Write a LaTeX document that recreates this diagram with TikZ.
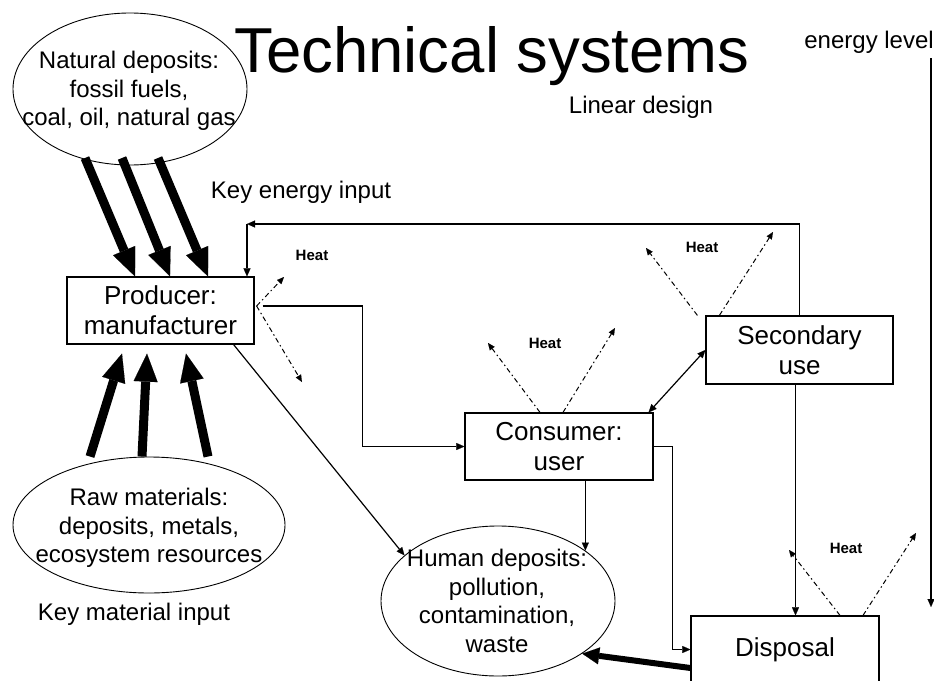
\documentclass[tikz,border=0pt]{standalone}
\usepackage{fontspec}
\setmainfont{Liberation Sans}
\usetikzlibrary{arrows.meta,shapes.geometric,calc}

\begin{document}
\begin{tikzpicture}[x=1pt,y=-1pt,
  body/.style={font=\fontsize{24}{28.5}\selectfont, align=center, inner sep=0pt},
  boxlabel/.style={draw, line width=1.2pt, font=\fontsize{26}{30}\selectfont, align=center,
    inner sep=0pt, minimum width=187pt, minimum height=67pt},
  pool/.style={draw, ellipse, line width=0.9pt, inner sep=0pt},
  flow/.style={line width=1.2pt, -{Triangle[length=8pt,width=7pt,line width=0.1pt]}},
  bigflow/.style={line width=9pt, -{Triangle[length=28pt,width=24pt,line width=0.1pt]}},
  heat/.style={line width=1pt, dash pattern=on 5pt off 3pt on 1.5pt off 3pt,
    -{Triangle[length=7pt,width=6pt,line width=0.1pt]}},
  heatlabel/.style={font=\fontsize{15}{18}\selectfont\bfseries, inner sep=0pt},
]
\useasboundingbox (0,0) rectangle (934,680);
\clip (0,0) rectangle (934,680);

% title and free labels
\node[body, font=\fontsize{63.5}{70}\selectfont, anchor=base] (title) at (492,72) {Technical systems};
\node[body, anchor=base] (kei) at (301,198) {Key energy input};
\node[body, anchor=base] (lin) at (641,113) {Linear design};
\node[body, anchor=base] (kmi) at (134,620) {Key material input};
\node[body, anchor=base east] (enl) at (934,48) {energy level};

% reservoirs
\node[pool, minimum width=234pt, minimum height=152pt] (nat) at (130,89) {};
\node[body] (natT) at (129,91) {Natural deposits:\\fossil fuels,\\coal, oil, natural gas};
\node[pool, minimum width=272pt, minimum height=136pt] (raw) at (149,525) {};
\node[body] (rawT) at (149,528) {Raw materials:\\deposits, metals,\\ecosystem resources};
\node[pool, minimum width=234pt, minimum height=150pt] (hum) at (498,601) {};
\node[body] (humT) at (497,601) {Human deposits:\\pollution,\\contamination,\\waste};

% stages
\node[boxlabel] (prod) at (160.5,310.5) {Producer:\\manufacturer};
\node[boxlabel, minimum width=188pt] (cons) at (559,446.5) {Consumer:\\user};
\node[boxlabel, minimum height=68pt] (sec) at (799.5,350) {Secondary\\use};
\node[boxlabel, minimum width=188pt] (disp) at (785,649.5) {Disposal};

% key energy input
\draw[bigflow] ($(nat.center)+(-45,69)$) -- ($(prod.north)+(-25.5,0)$);
\draw[bigflow] ($(nat.center)+(-8,69)$) -- ($(prod.north)+(9.5,0)$);
\draw[bigflow] ($(nat.center)+(28,69)$) -- ($(prod.north)+(47.5,0)$);

% key material input
\draw[bigflow] ($(raw.north)+(-59,0)$) -- ($(prod.south)+(-38.5,9)$);
\draw[bigflow] ($(raw.north)+(-7,0)$) -- ($(prod.south)+(-13.5,9)$);
\draw[bigflow] ($(raw.north)+(59,0)$) -- ($(prod.south)+(25.5,9)$);

% material flows
\coordinate (fb) at (247,224);
\draw[flow] (sec.north) -- (sec.north |- fb) -- (fb);
\draw[flow] (fb) -- (fb |- prod.north);
\draw[flow] ($(prod.east)+(8,-4.5)$) -| ($(cons.west)+(-102,0)$) -- (cons.west);
\draw[flow] ($(prod.south east)+(-21,0)$) -- (hum.154);
\draw[flow] (hum.30 |- cons.south) -- (hum.30);
\draw[flow] (cons.east) -- ++(19,0) |- (disp.west);
\draw[flow] ($(sec.south)+(-4,0)$) coordinate (sd) -- (sd |- disp.north);
\draw[line width=1.2pt, {Triangle[length=8pt,width=7pt,line width=0.1pt]}-{Triangle[length=8pt,width=7pt,line width=0.1pt]}]
  (sec.west) -- ($(cons.north east)+(-5,0)$);
\draw[line width=6pt, -{Triangle[length=17pt,width=17pt,line width=0.1pt]}]
  ($(disp.west)+(0,18.5)$) -- (hum.-32);

% heat losses
\coordinate (ph) at ($(prod.east)+(2,-4.5)$);
\coordinate (ph1) at (284,277);
\coordinate (ph2) at (302,382);
\draw[heat] (ph) -- (ph1);
\draw[heat] (ph) -- (ph2);
\node[heatlabel] (h1) at (312,255) {Heat};

\coordinate (ch1) at (488,343);
\coordinate (ch2) at (615,328);
\draw[heat] ($(cons.north)+(-19,0)$) -- (ch1);
\draw[heat] ($(cons.north)+(4,0)$) -- (ch2);
\node[heatlabel] (h2) at (545,343) {Heat};

\coordinate (sh1) at (646,248);
\coordinate (sh2) at (773,232);
\draw[heat] ($(sec.north west)+(-8,0)$) -- (sh1);
\draw[heat] ($(sec.north west)+(14,0)$) -- (sh2);
\node[heatlabel] (h3) at (702,247) {Heat};

\coordinate (dh1) at (789,550);
\coordinate (dh2) at (916,533);
\draw[heat] ($(disp.north)+(55,0)$) -- (dh1);
\draw[heat] ($(disp.north)+(78,0)$) -- (dh2);
\node[heatlabel] (h4) at (846,548) {Heat};

% energy level scale
\coordinate (elT) at (931,58);
\coordinate (elB) at (931,607);
\draw[flow] (elT) -- (elB);
\end{tikzpicture}
\end{document}
